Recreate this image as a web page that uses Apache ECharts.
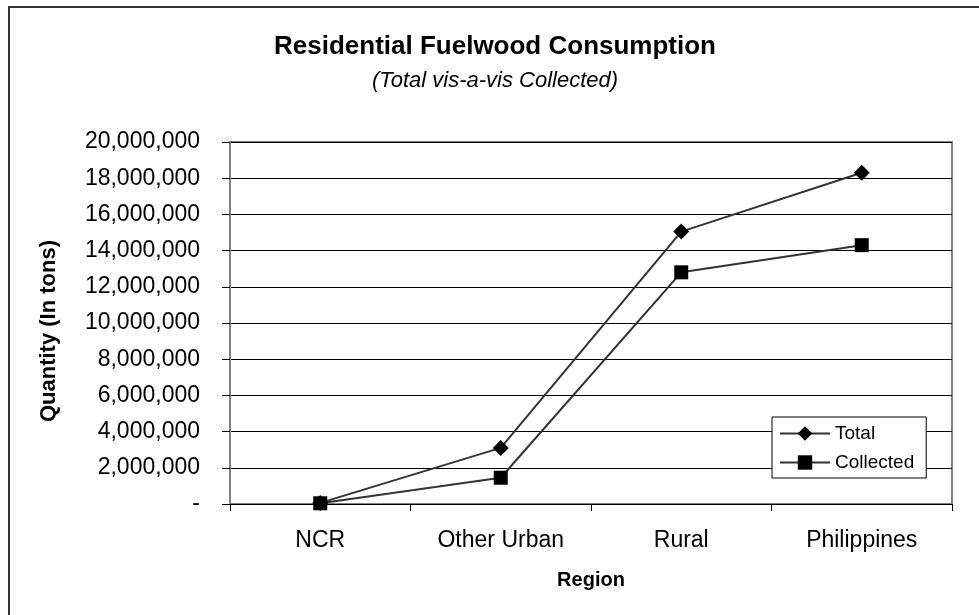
<!DOCTYPE html>
<html>
<head>
<meta charset="utf-8">
<script src="https://cdn.jsdelivr.net/npm/echarts@6/dist/echarts.min.js"></script>
<style>
  html, body { margin: 0; padding: 0; background: #fff; }
  #main { width: 979px; height: 615px; }
</style>
</head>
<body>
<div id="main"></div>
<script>
var regions = ['NCR', 'Other Urban', 'Rural', 'Philippines'];
var totalValues = [60000, 3100000, 15050000, 18300000];
var collectedValues = [40000, 1450000, 12800000, 14300000];
var seriesNames = ['Total', 'Collected'];

var chart = echarts.init(document.getElementById('main'));
var font = '"Liberation Sans", Arial, sans-serif';

function withCommas(v) {
    if (v === 0) return '-';
    return String(v).replace(/\B(?=(\d{3})+(?!\d))/g, ',');
}

var option = {
    backgroundColor: '#fff',
    animation: false,
    textStyle: { fontFamily: font, color: '#000' },
    graphic: [{
        type: 'rect',
        shape: { x: 9, y: 7, width: 1000, height: 700 },
        style: { fill: 'none', stroke: '#333', lineWidth: 2 },
        silent: true
    }],
    title: {
        text: 'Residential Fuelwood Consumption',
        subtext: '(Total vis-a-vis Collected)',
        left: 490,
        textAlign: 'center',
        top: 29,
        itemGap: 10,
        textStyle: { fontFamily: font, fontSize: 26, fontWeight: 'bold', color: '#000' },
        subtextStyle: { fontFamily: font, fontSize: 22, fontStyle: 'italic', color: '#000' }
    },
    legend: {
        data: seriesNames,
        orient: 'vertical',
        left: 772,
        top: 417,
        padding: [7, 12, 6, 7],
        itemWidth: 50,
        itemHeight: 18,
        itemGap: 10,
        itemTextGap: 6,
        backgroundColor: '#fff',
        borderColor: '#000',
        borderWidth: 1,
        borderRadius: 0,
        textStyle: { fontFamily: font, fontSize: 19, color: '#000' }
    },
    grid: {
        left: 230,
        top: 142,
        right: 27,
        bottom: 111,
        show: true,
        borderColor: '#808080',
        borderWidth: 2,
        backgroundColor: '#fff'
    },
    xAxis: {
        type: 'category',
        data: regions,
        boundaryGap: true,
        name: 'Region',
        nameLocation: 'middle',
        nameGap: 66,
        nameTextStyle: { fontFamily: font, fontSize: 20, fontWeight: 'bold', color: '#000' },
        axisLine: { lineStyle: { color: '#000', width: 1 } },
        axisTick: { show: true, length: 7, lineStyle: { color: '#000' } },
        axisLabel: { fontFamily: font, fontSize: 23, color: '#000', margin: 25 },
        splitLine: { show: false }
    },
    yAxis: {
        type: 'value',
        min: 0,
        max: 20000000,
        interval: 2000000,
        name: 'Quantity (In tons)',
        nameLocation: 'middle',
        nameGap: 170,
        nameTextStyle: { fontFamily: font, fontSize: 22, fontWeight: 'bold', color: '#000', padding: [0, 16, 0, 0] },
        axisLine: { show: true, lineStyle: { color: '#808080', width: 2 } },
        axisTick: { show: true, length: 8, lineStyle: { color: '#000' } },
        axisLabel: { fontFamily: font, fontSize: 23, color: '#000', margin: 30, formatter: withCommas },
        splitLine: { show: true, lineStyle: { color: '#000', width: 1 } }
    },
    series: [{
        name: seriesNames[0],
        type: 'line',
        data: totalValues,
        symbol: 'diamond',
        symbolSize: 16,
        lineStyle: { color: '#333', width: 2 },
        itemStyle: { color: '#000' }
    }, {
        name: seriesNames[1],
        type: 'line',
        data: collectedValues,
        symbol: 'rect',
        symbolSize: 14,
        lineStyle: { color: '#333', width: 2 },
        itemStyle: { color: '#000' }
    }]
};

chart.setOption(option);
</script>
</body>
</html>
